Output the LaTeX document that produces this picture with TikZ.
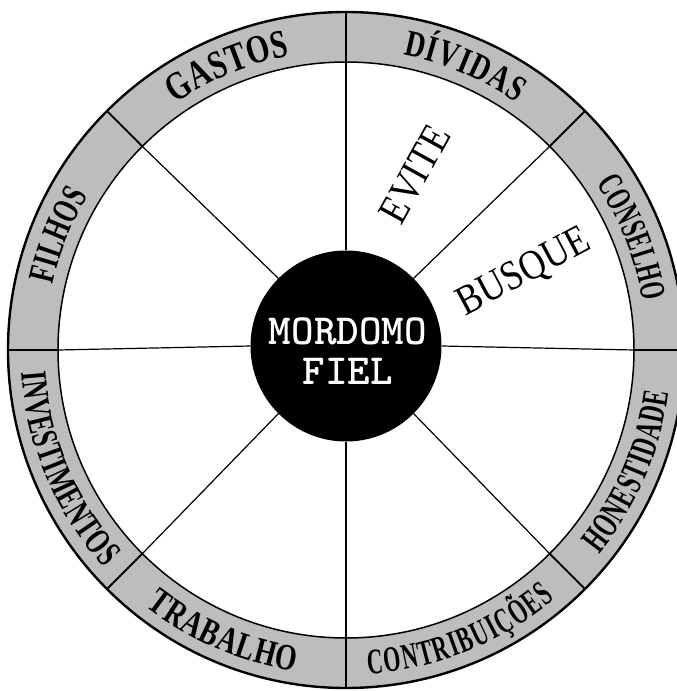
\documentclass[tikz,border=0pt]{standalone}
\usepackage{fontspec}
\setmainfont{Liberation Serif}
\newfontfamily\ringA{Liberation Serif}[FakeStretch=0.75]
\newfontfamily\ringB{Liberation Serif}[FakeStretch=0.67]
\newfontfamily\ringC{Liberation Serif}[FakeStretch=0.61]
\newfontfamily\wordfont{Liberation Serif}[FakeStretch=0.86]
\usetikzlibrary{decorations.text}
\definecolor{ringgray}{gray}{0.74}
\tikzset{
  outerline/.style={line width=2.4pt},
  innerline/.style={line width=1.5pt},
  spoke/.style={line width=1.2pt},
  divider/.style={line width=1.8pt},
  hubnode/.style={circle, fill=black, minimum size=191pt, inner sep=0pt},
  hubtext/.style={text=white, align=center, inner sep=0pt,
    font=\ttfamily\bfseries\fontsize{43}{40}\selectfont},
  bigword/.style={font=\wordfont\fontsize{42}{42}\selectfont, inner sep=0pt}
}
\newcommand\ringlabel[5]{%
  \path[decorate, decoration={text along path, text align=fit to path,
    text={|#4|#5}}] (#1:#3) arc[start angle=#1, end angle=#2, radius=#3];}
\begin{document}
\begin{tikzpicture}[x=1pt,y=1pt]
\useasboundingbox (-346pt,-341pt) rectangle (331pt,350pt);
% ring
\fill[ringgray, even odd rule] (0,0) circle[radius=338pt] (0,0) circle[radius=288pt];
\draw[outerline] (0,0) circle[radius=338pt];
\draw[innerline] (0,0) circle[radius=288pt];
% hub
\node[hubnode] (hub) at (0pt,4pt) {};
\node[hubtext] (hubtxt) at (2pt,-1pt) {MORDOMO\\FIEL};
% spokes and dividers
\foreach \a in {0,45,...,315}{
  \draw[spoke] (hub.\a) -- (\a:288pt);
  \draw[divider] (\a:288pt) -- (\a:338pt);
}
% ring labels
\ringlabel{124.7}{100.8}{299.5pt}{\ringA\bfseries\fontsize{40}{40}\selectfont}{GASTOS}
\ringlabel{79}{55.4}{300.5pt}{\ringA\bfseries\fontsize{37}{37}\selectfont}{DÍVIDAS}
\ringlabel{33.7}{9.3}{300.5pt}{\ringC\bfseries\fontsize{36}{36}\selectfont}{CONSELHO}
\ringlabel{167.5}{149}{300.5pt}{\ringB\bfseries\fontsize{37}{37}\selectfont}{FILHOS}
\ringlabel{-39}{-7.5}{325.5pt}{\ringC\bfseries\fontsize{37}{37}\selectfont}{HONESTIDADE}
\ringlabel{-86}{-50}{325pt}{\ringC\bfseries\fontsize{36}{36}\selectfont}{CONTRIBUIÇÕES}
\ringlabel{-128}{-99}{325.5pt}{\ringA\bfseries\fontsize{37}{37}\selectfont}{TRABALHO}
\ringlabel{184}{222}{325.5pt}{\ringB\bfseries\fontsize{37}{37}\selectfont}{INVESTIMENTOS}
% inner words
\node[bigword, rotate=61] (evite) at (69pt,176pt) {EVITE};
\node[bigword, rotate=28] (busque) at (178pt,77pt) {BUSQUE};
\end{tikzpicture}
\end{document}
